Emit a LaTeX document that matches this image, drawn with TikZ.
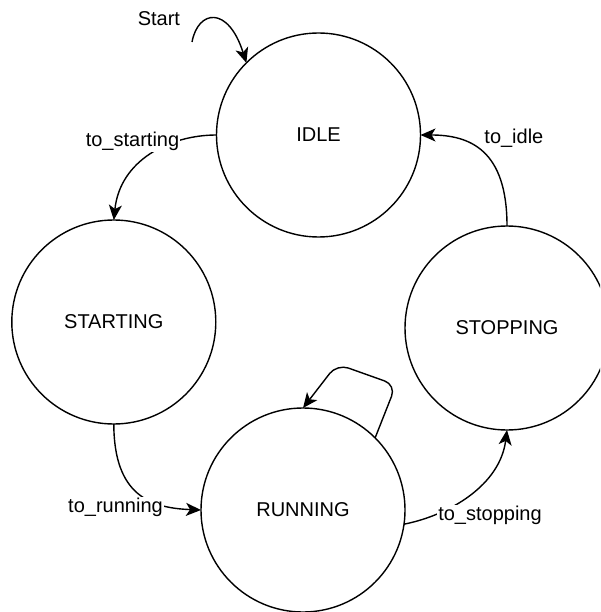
\documentclass[tikz,border=0pt]{standalone}
\usepackage{fontspec}
\setmainfont{Liberation Sans}
\usetikzlibrary{arrows.meta}
\begin{document}
\begin{tikzpicture}[x=1pt,y=-1pt,
  state/.style={circle,draw,line width=1.4pt,minimum size=204pt,inner sep=0pt,outer sep=0pt,
    font=\fontsize{20}{24}\selectfont},
  trans/.style={line width=1.4pt,-{Stealth[length=15pt,width=13pt,inset=4pt]}},
  lbl/.style={font=\fontsize{20}{24}\selectfont,anchor=base,fill=white,inner sep=1pt}]
\useasboundingbox (0,0) rectangle (600,612);
\clip (0,0) rectangle (600,612);

% states
\node[state] (idle)     at (318.5,135) {IDLE};
\node[state] (starting) at (113.8,322) {STARTING};
\node[state] (stopping) at (507,328)   {STOPPING};
\node[state] (running)  at (303,510)   {RUNNING};

% initial transition
\coordinate (init) at (192,42);
\draw[trans] (init) .. controls (198,10) and (228,5) .. (idle.135);

% transitions
\draw[trans] (idle.180) .. controls (170,135) and (120,160) .. (starting.90);
\draw[trans] (starting.270) .. controls (114,495) and (150,508) .. (running.180);
\draw[trans] (running.-8) .. controls (450,515) and (500,485) .. (stopping.270);
\draw[trans] (stopping.90) .. controls (507,150) and (470,135) .. (idle.0);
\draw[trans,rounded corners=12pt] (running.45) -- (396,385) -- (337,364) -- (running.90);

% transition labels
\node[lbl] (lstart)    at (158.9,26)    {Start};
\node[lbl] (lstarting) at (132.5,146.7) {to\_starting};
\node[lbl] (lidle)     at (513.9,144)   {to\_idle};
\node[lbl] (lrunning)  at (115.5,512.7) {to\_running};
\node[lbl] (lstopping) at (490,520.7)   {to\_stopping};
\end{tikzpicture}
\end{document}
